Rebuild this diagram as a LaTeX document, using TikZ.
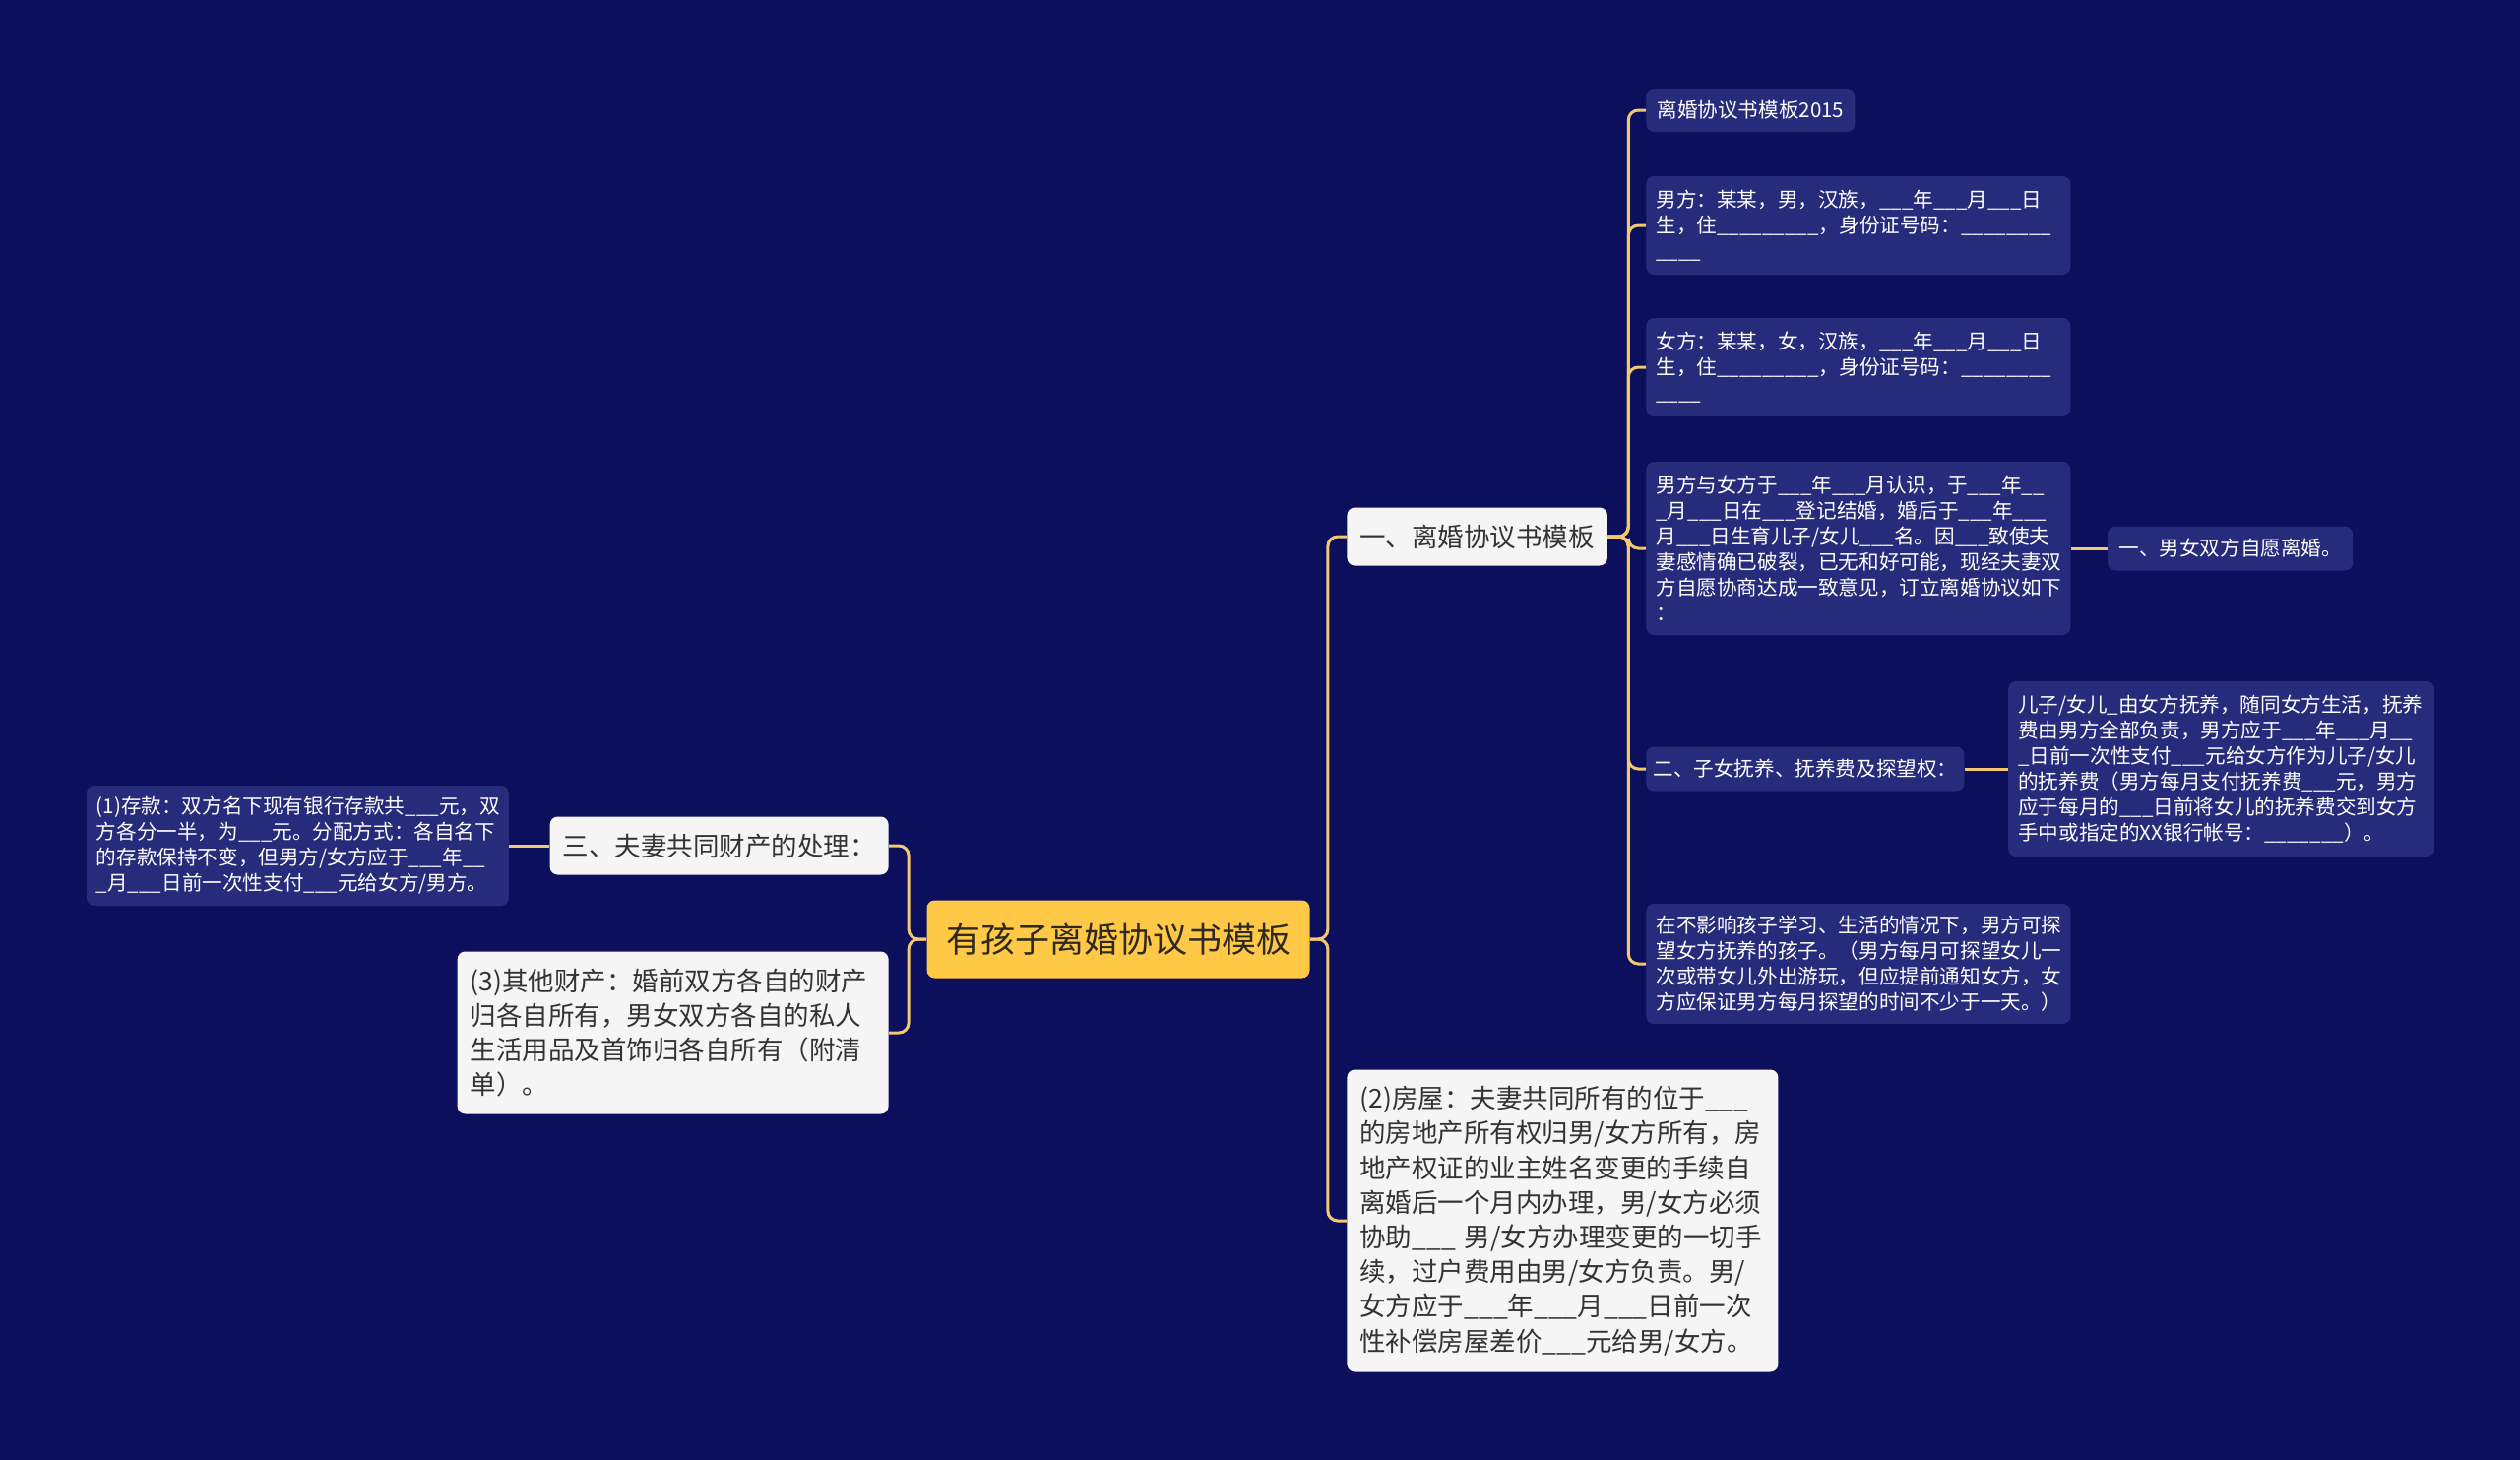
\documentclass[tikz,border=0pt]{standalone}
\usepackage{fontspec}
\usepackage{tikz}
\usetikzlibrary{positioning}
\setmainfont{Noto Sans CJK SC}
\definecolor{bgnavy}{HTML}{0B0F5C}
\definecolor{leafblue}{HTML}{262B7B}
\definecolor{paper}{HTML}{F5F5F5}
\definecolor{rootyellow}{HTML}{FFC847}
\definecolor{rootink}{HTML}{2E2A1F}
\definecolor{linegold}{HTML}{F2C872}
\definecolor{ink}{HTML}{333333}
\newcommand{\kong}{\_\_\_}
\tikzset{rootnode/.style={shape=rectangle, rounded corners=4pt, fill=rootyellow, text=rootink, font=\fontsize{17.5}{21}\selectfont, minimum width=194.5pt, minimum height=39.5pt, inner sep=0pt}}
\tikzset{branchnode/.style={shape=rectangle, rounded corners=4pt, fill=paper, text=ink, font=\fontsize{13.25}{17.6}\selectfont, inner xsep=6.5pt, inner ysep=5pt, align=left}}
\tikzset{leafnode/.style={shape=rectangle, rounded corners=4pt, fill=leafblue, text=white, font=\fontsize{10.3}{13}\selectfont, inner xsep=5pt, inner ysep=5pt, align=left}}
\tikzset{branchline/.style={draw=linegold, line width=1.5pt, rounded corners=5pt}}

\begin{document}
\begin{tikzpicture}[x=0.5pt, y=-0.5pt]
\fill[bgnavy] (0,0) rectangle (2560,1483);
\useasboundingbox (0,0) rectangle (2560,1483);
%Nodes
\node[rootnode]   (root)                          at (1136,954) {有孩子离婚协议书模板};
\node[branchnode, minimum width=131.5pt, minimum height=29.5pt, anchor=west] (deal) at (1368,545) {一、离婚协议书模板};
\node[leafnode, minimum width=106pt, minimum height=22pt, anchor=west] (title) at (1672,112) {离婚协议书模板2015};
\node[leafnode, text width=205.5pt, minimum height=50pt, anchor=west] (man) at (1672,229) {男方：某某，男，汉族，\kong 年\kong 月\kong 日\\生，住\kong\kong\kong，身份证号码：\kong\kong\_\_\\\kong\_};
\node[leafnode, text width=205.5pt, minimum height=50pt, anchor=west] (woman) at (1672,373) {女方：某某，女，汉族，\kong 年\kong 月\kong 日\\生，住\kong\kong\kong，身份证号码：\kong\kong\_\_\\\kong\_};
\node[leafnode, text width=205.5pt, minimum height=88pt, anchor=west] (meet) at (1672,557) {男方与女方于\kong 年\kong 月认识，于\kong 年\_\_\\\_月\kong 日在\kong 登记结婚，婚后于\kong 年\kong\\月\kong 日生育儿子/女儿\kong 名。因\kong 致使夫\\妻感情确已破裂，已无和好可能，现经夫妻双\\方自愿协商达成一致意见，订立离婚协议如下\\：};
\node[leafnode, minimum width=124.5pt, minimum height=22.5pt] (willing) [right=18.5pt of meet] {一、男女双方自愿离婚。};
\node[leafnode, inner xsep=3.5pt, minimum width=161.5pt, minimum height=22.5pt, anchor=west] (child) at (1672,781) {二、子女抚养、抚养费及探望权：};
\node[leafnode, text width=206.5pt, minimum height=89pt] (support) [right=22pt of child] {儿子/女儿\_由女方抚养，随同女方生活，抚养\\费由男方全部负责，男方应于\kong 年\kong 月\_\_\\\_日前一次性支付\kong 元给女方作为儿子/女儿\\的抚养费（男方每月支付抚养费\kong 元，男方\\应于每月的\kong 日前将女儿的抚养费交到女方\\手中或指定的XX银行帐号：\kong\kong\_）。};
\node[leafnode, text width=205.5pt, minimum height=61pt, anchor=west] (visit) at (1672,979) {在不影响孩子学习、生活的情况下，男方可探\\望女方抚养的孩子。（男方每月可探望女儿一\\次或带女儿外出游玩，但应提前通知女方，女\\方应保证男方每月探望的时间不少于一天。）};
\node[branchnode, text width=206pt, minimum height=153.5pt, anchor=west] (house) at (1368,1240) {(2)房屋：夫妻共同所有的位于\kong\\的房地产所有权归男/女方所有，房\\地产权证的业主姓名变更的手续自\\离婚后一个月内办理，男/女方必须\\协助\kong{} 男/女方办理变更的一切手\\续，过户费用由男/女方负责。男/\\女方应于\kong 年\kong 月\kong 日前一次\\性补偿房屋差价\kong 元给男/女方。};
\node[branchnode, minimum width=171.5pt, minimum height=29.5pt, anchor=east] (property) at (903,859) {三、夫妻共同财产的处理：};
\node[leafnode, text width=204.5pt, minimum height=61pt] (savings) [left=20.5pt of property] {(1)存款：双方名下现有银行存款共\kong 元，双\\方各分一半，为\kong 元。分配方式：各自名下\\的存款保持不变，但男方/女方应于\kong 年\_\_\\\_月\kong 日前一次性支付\kong 元给女方/男方。};
\node[branchnode, text width=206pt, minimum height=82.5pt, anchor=east] (other) at (903,1049) {(3)其他财产：婚前双方各自的财产\\归各自所有，男女双方各自的私人\\生活用品及首饰归各自所有（附清\\单）。};
%Lines
\draw[branchline] (root.east) -- ++(18,0) |- (deal.west);
\draw[branchline] (root.east) -- ++(18,0) |- (house.west);
\draw[branchline] (root.west) -- ++(-18,0) |- (property.east);
\draw[branchline] (root.west) -- ++(-18,0) |- (other.east);
\draw[branchline] (deal.east) -- ++(21,0) |- (title.west);
\draw[branchline] (deal.east) -- ++(21,0) |- (man.west);
\draw[branchline] (deal.east) -- ++(21,0) |- (woman.west);
\draw[branchline] (deal.east) -- ++(21,0) |- (meet.west);
\draw[branchline] (deal.east) -- ++(21,0) |- (child.west);
\draw[branchline] (deal.east) -- ++(21,0) |- (visit.west);
\draw[branchline] (meet.east) -- (willing.west);
\draw[branchline] (child.east) -- (support.west);
\draw[branchline] (property.west) -- (savings.east);
\end{tikzpicture}
\end{document}
